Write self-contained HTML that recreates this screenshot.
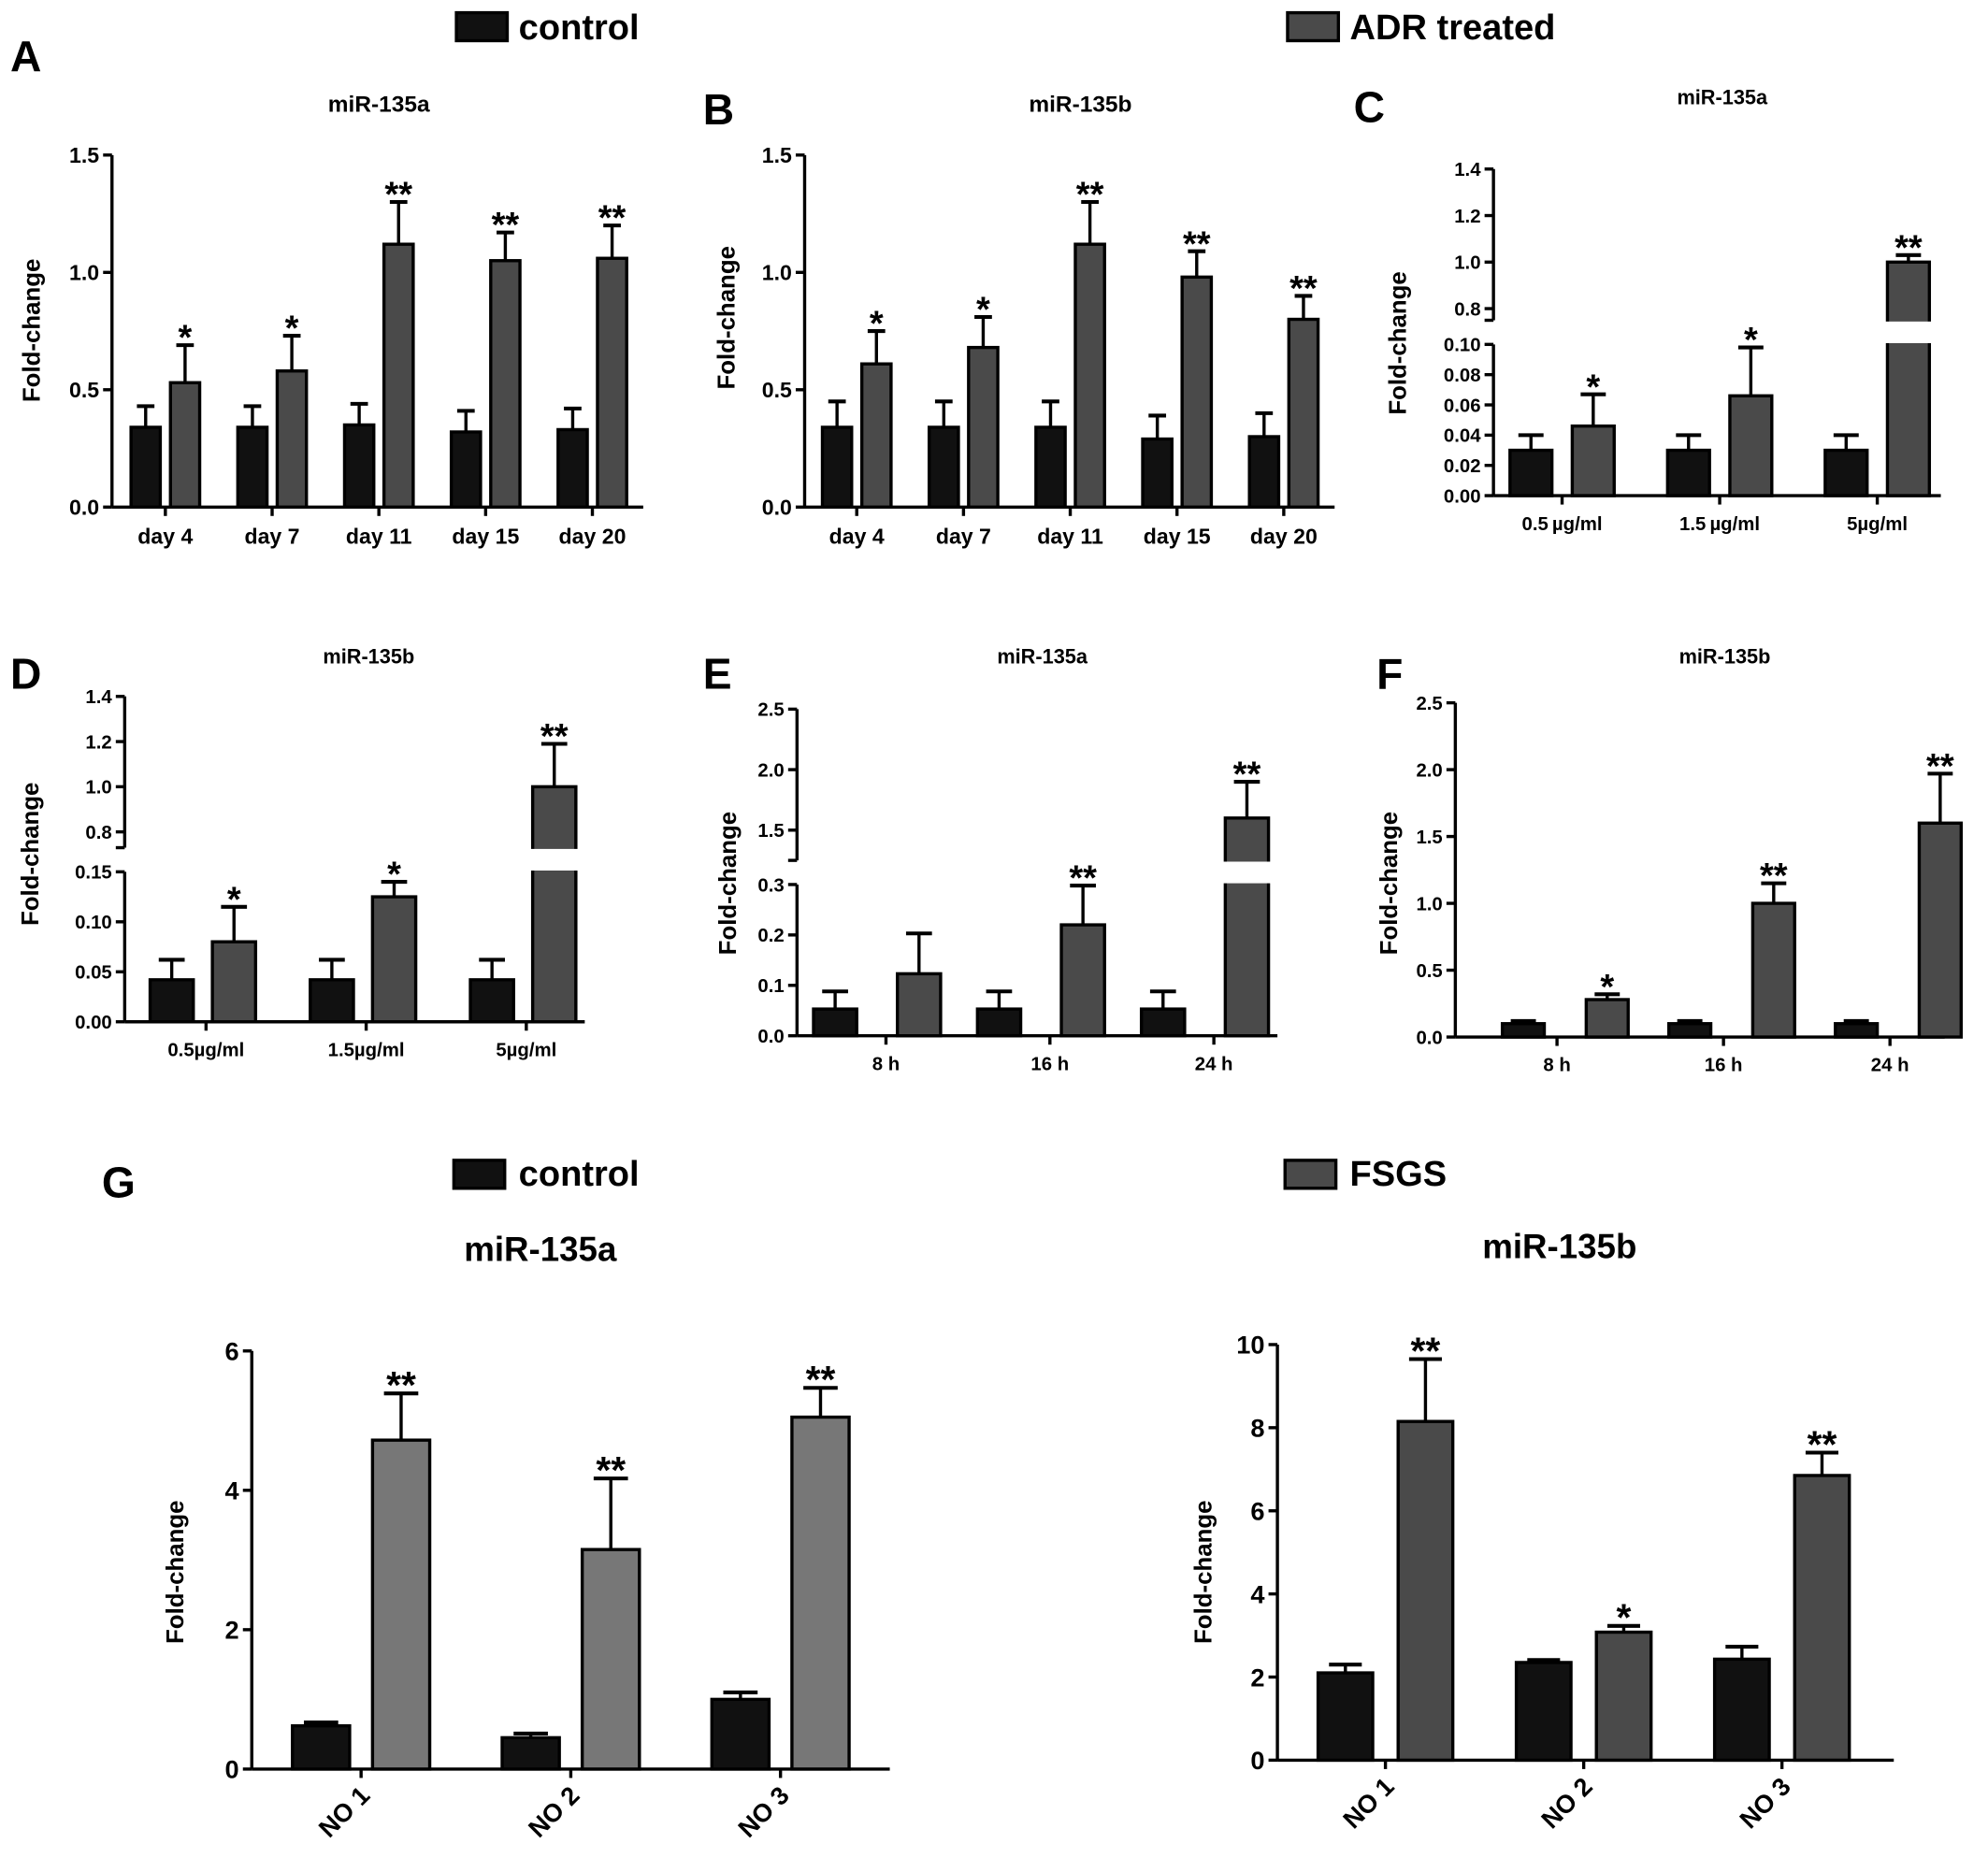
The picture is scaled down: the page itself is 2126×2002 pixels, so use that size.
<!DOCTYPE html>
<html><head><meta charset="utf-8"><style>
html,body{margin:0;padding:0;background:#fff;}
svg{display:block;font-family:"Liberation Sans Narrow","Liberation Sans",sans-serif;font-weight:bold;}
</style></head><body>
<svg id="fig" width="2126" height="2002" viewBox="0 0 1564 1473" xmlns="http://www.w3.org/2000/svg">
<rect width="1564" height="1473" fill="#fff"/>
<g>
<rect x="359" y="10" width="40" height="22" fill="#111" stroke="#000" stroke-width="2.5"/>
<text x="408" y="31" font-size="28" font-family="Liberation Sans,sans-serif">control</text>
<rect x="1013" y="10" width="40" height="22" fill="#4a4a4a" stroke="#000" stroke-width="2.5"/>
<text x="1062" y="31" font-size="28" font-family="Liberation Sans,sans-serif">ADR treated</text>
</g>
<g>
<rect x="357" y="913" width="40" height="22" fill="#111" stroke="#000" stroke-width="2.5"/>
<text x="408" y="933" font-size="28" font-family="Liberation Sans,sans-serif">control</text>
<rect x="1011" y="913" width="40" height="22" fill="#4a4a4a" stroke="#000" stroke-width="2.5"/>
<text x="1062" y="933" font-size="28" font-family="Liberation Sans,sans-serif">FSGS</text>
</g>
</svg>
<script>
// Panel A
const catsA=["day 4","day 7","day 11","day 15","day 20"];
const ctlA=[0.34,0.34,0.35,0.32,0.33];const ctlErrA=[0.09,0.09,0.09,0.09,0.09];
const trtA=[0.53,0.58,1.12,1.05,1.06];const trtErrA=[0.16,0.15,0.18,0.12,0.14];
const sigA=["*","*","**","**","**"];const ticksA=["0.0","0.5","1.0","1.5"];
// Panel B
const catsB=["day 4","day 7","day 11","day 15","day 20"];
const ctlB=[0.34,0.34,0.34,0.29,0.30];const ctlErrB=[0.11,0.11,0.11,0.10,0.10];
const trtB=[0.61,0.68,1.12,0.98,0.80];const trtErrB=[0.14,0.13,0.18,0.11,0.10];
const sigB=["*","*","**","**","**"];const ticksB=["0.0","0.5","1.0","1.5"];
// Panel C
const catsC=["0.5\u2009µg/ml","1.5\u2009µg/ml","5µg/ml"];
const ctlC=[0.03,0.03,0.03];const ctlErrC=[0.01,0.01,0.01];
const trtC=[0.046,0.066,1.0];const trtErrC=[0.021,0.032,0.03];
const sigC=["*","*","**"];
const ticksCLow=["0.00","0.02","0.04","0.06","0.08","0.10"];const ticksCHigh=["0.8","1.0","1.2","1.4"];
// Panel D
const catsD=["0.5µg/ml","1.5µg/ml","5µg/ml"];
const ctlD=[0.042,0.042,0.042];const ctlErrD=[0.02,0.02,0.02];
const trtD=[0.08,0.125,1.0];const trtErrD=[0.035,0.015,0.19];
const sigD=["*","*","**"];
const ticksDLow=["0.00","0.05","0.10","0.15"];const ticksDHigh=["0.8","1.0","1.2","1.4"];
// Panel E
const catsE=["8 h","16 h","24 h"];
const ctlE=[0.053,0.053,0.053];const ctlErrE=[0.035,0.035,0.035];
const trtE=[0.123,0.22,1.6];const trtErrE=[0.08,0.078,0.3];
const sigE=["","**","**"];
const ticksELow=["0.0","0.1","0.2","0.3"];const ticksEHigh=["1.5","2.0","2.5"];
// Panel F
const catsF=["8 h","16 h","24 h"];
const ctlF=[0.1,0.1,0.1];const ctlErrF=[0.02,0.02,0.02];
const trtF=[0.28,1.0,1.6];const trtErrF=[0.04,0.15,0.37];
const sigF=["*","**","**"];const ticksF=["0.0","0.5","1.0","1.5","2.0","2.5"];
// Panel G left
const catsG1=["NO 1","NO 2","NO 3"];
const ctlG1=[0.62,0.45,1.0];const ctlErrG1=[0.05,0.06,0.1];
const trtG1=[4.72,3.15,5.05];const trtErrG1=[0.67,1.02,0.42];
const sigG1=["**","**","**"];const ticksG1=["0","2","4","6"];
// Panel G right
const catsG2=["NO 1","NO 2","NO 3"];
const ctlG2=[2.1,2.35,2.43];const ctlErrG2=[0.2,0.06,0.3];
const trtG2=[8.15,3.08,6.85];const trtErrG2=[1.5,0.15,0.55];
const sigG2=["**","*","**"];const ticksG2=["0","2","4","6","8","10"];

const NS="http://www.w3.org/2000/svg";const svg=document.getElementById('fig');
function mk(tag,attrs,parent,txt){const e=document.createElementNS(NS,tag);for(const k in attrs)e.setAttribute(k,attrs[k]);if(txt!==undefined)e.textContent=txt;(parent||svg).appendChild(e);return e;}

function draw(c){
  const g=mk('g',{});
  
  
  const segs=c.segs;
  function y(v){for(let i=0;i<segs.length;i++){const s=segs[i];if(v<=s.hi||i===segs.length-1){return s.yLo+(v-s.lo)/(s.hi-s.lo)*(s.yHi-s.yLo);}}}
  const x0=c.axisX, yb=segs[0].yLo;
  const xa=mk('line',{x1:x0,y1:yb,x2:c.axisEnd,y2:yb,stroke:'#000','stroke-width':2.5},g);
  
  segs.forEach((s,i)=>{
    const bot=i===0?yb:s.yLo;
    const l=mk('line',{x1:x0,y1:bot,x2:x0,y2:s.yHi,stroke:'#000','stroke-width':2.5},g);
    
    if(i>0){const t=mk('line',{x1:x0-7,y1:bot,x2:x0,y2:bot,stroke:'#000','stroke-width':2.5},g);
      }
  });
  c.ticks.forEach(([labels,seg])=>{labels.forEach(lb=>{const v=parseFloat(lb);const ty=y(v);
    const tk=mk('line',{x1:x0-7,y1:ty,x2:x0,y2:ty,stroke:'#000','stroke-width':2.5},g);
    
    const tl=mk('text',{x:x0-10,y:ty+c.fs*0.36,'font-size':c.fs,'text-anchor':'end'},g,lb);
    });});
  const yt=mk('text',{x:0,y:0,'font-size':c.yfs,'text-anchor':'middle',transform:`translate(${c.ytX},${c.ytY}) rotate(-90)`,'font-family':'Liberation Sans,sans-serif'},g,'Fold-change');
  
  const tt=mk('text',{x:c.titleX,y:c.titleY,'font-size':c.tfs,'text-anchor':'middle','font-family':'Liberation Sans,sans-serif'},g,c.title);
  
  if(c.letter){const lt=mk('text',{x:c.letterX,y:c.letterY,'font-size':34,'font-family':'Liberation Sans,sans-serif'},g,c.letter);
    }
  const n=c.cats.length;
  for(let i=0;i<n;i++){
    const cx=c.c0+i*c.step;
    [[c.ctl,c.ctlErr,'#111',c.off0,'bar-control'],[c.trt,c.trtErr,c.trtColor,c.off1,'bar-treated']].forEach(([vals,errs,col,off,nm],k)=>{
      const bx=cx+off, v=vals[i], top=y(v);
      const ey=y(v+errs[i]);
      const el=mk('line',{x1:bx+c.bw/2,y1:top,x2:bx+c.bw/2,y2:ey,stroke:'#000','stroke-width':2.5},g);
      
      const ec=mk('line',{x1:bx+c.bw/2-c.bw*0.3,y1:ey,x2:bx+c.bw/2+c.bw*0.3,y2:ey,stroke:'#000','stroke-width':3},g);
      
      const r=mk('rect',{x:bx,y:top,width:c.bw,height:yb-top,fill:col,stroke:'#000','stroke-width':2.5},g);
      
      if(segs.length>1 && v>segs[0].hi){
        const gp=mk('rect',{x:bx-2,y:segs[1].yLo+1,width:c.bw+4,height:(segs[0].yHi-segs[1].yLo)-2,fill:'#fff'},g);
        
      }
      if(k===1&&c.sig[i]){const st=mk('text',{x:bx+c.bw/2,y:ey+c.sfs*0.12,'font-size':c.sfs,'text-anchor':'middle','font-family':'Liberation Sans,sans-serif'},g,c.sig[i]);
        }
    });
    const xt=mk('line',{x1:cx,y1:yb,x2:cx,y2:yb+7,stroke:'#000','stroke-width':2.5},g);
    
    let xl;
    if(c.rot){xl=mk('text',{x:0,y:0,'font-size':c.fs,'text-anchor':'end',transform:`translate(${cx+8},${yb+22}) rotate(-45)`},g,c.cats[i]);}
    else xl=mk('text',{x:cx,y:yb+c.fs+12,'font-size':c.fs,'text-anchor':'middle'},g,c.cats[i]);
    
  }
}
draw({name:'panel-a',letter:'A',letterX:8,letterY:56,title:'miR-135a',titleX:298,titleY:88,tfs:18,axisX:88,axisEnd:506,
 segs:[{lo:0,hi:1.5,yLo:399,yHi:122}],ticks:[[ticksA,0]],fs:17,yfs:19,ytX:31,ytY:260,
 cats:catsA,ctl:ctlA,ctlErr:ctlErrA,trt:trtA,trtErr:trtErrA,sig:sigA,c0:130,step:84,off0:-27,off1:4,bw:23,trtColor:'#4a4a4a',sfs:28});
draw({name:'panel-b',letter:'B',letterX:553,letterY:98,title:'miR-135b',titleX:850,titleY:88,tfs:18,axisX:633,axisEnd:1050,
 segs:[{lo:0,hi:1.5,yLo:399,yHi:122}],ticks:[[ticksB,0]],fs:17,yfs:19,ytX:578,ytY:250,
 cats:catsB,ctl:ctlB,ctlErr:ctlErrB,trt:trtB,trtErr:trtErrB,sig:sigB,c0:674,step:84,off0:-27,off1:4,bw:23,trtColor:'#4a4a4a',sfs:28});
draw({name:'panel-c',letter:'C',letterX:1065,letterY:96,title:'miR-135a',titleX:1355,titleY:82,tfs:16,axisX:1175,axisEnd:1527,
 segs:[{lo:0,hi:0.1,yLo:390,yHi:271},{lo:0.75,hi:1.4,yLo:252,yHi:133}],ticks:[[ticksCLow,0],[ticksCHigh,1]],fs:15,yfs:19,ytX:1106,ytY:270,
 cats:catsC,ctl:ctlC,ctlErr:ctlErrC,trt:trtC,trtErr:trtErrC,sig:sigC,c0:1229,step:124,off0:-41,off1:8,bw:33,trtColor:'#4a4a4a',sfs:28});
draw({name:'panel-d',letter:'D',letterX:8,letterY:542,title:'miR-135b',titleX:290,titleY:522,tfs:16,axisX:98,axisEnd:460,
 segs:[{lo:0,hi:0.15,yLo:804,yHi:686},{lo:0.73,hi:1.4,yLo:667,yHi:548}],ticks:[[ticksDLow,0],[ticksDHigh,1]],fs:15,yfs:19,ytX:30,ytY:672,
 cats:catsD,ctl:ctlD,ctlErr:ctlErrD,trt:trtD,trtErr:trtErrD,sig:sigD,c0:162,step:126,off0:-44,off1:5,bw:34,trtColor:'#4a4a4a',sfs:28});
draw({name:'panel-e',letter:'E',letterX:553,letterY:542,title:'miR-135a',titleX:820,titleY:522,tfs:16,axisX:627,axisEnd:1005,
 segs:[{lo:0,hi:0.3,yLo:815,yHi:696},{lo:1.25,hi:2.5,yLo:677,yHi:558}],ticks:[[ticksELow,0],[ticksEHigh,1]],fs:15,yfs:19,ytX:579,ytY:695,
 cats:catsE,ctl:ctlE,ctlErr:ctlErrE,trt:trtE,trtErr:trtErrE,sig:sigE,c0:697,step:129,off0:-57,off1:9,bw:34,trtColor:'#4a4a4a',sfs:28});
draw({name:'panel-f',letter:'F',letterX:1083,letterY:542,title:'miR-135b',titleX:1357,titleY:522,tfs:16,axisX:1145,axisEnd:1530,
 segs:[{lo:0,hi:2.5,yLo:816,yHi:553}],ticks:[[ticksF,0]],fs:15,yfs:19,ytX:1099,ytY:695,
 cats:catsF,ctl:ctlF,ctlErr:ctlErrF,trt:trtF,trtErr:trtErrF,sig:sigF,c0:1225,step:131,off0:-43,off1:23,bw:33,trtColor:'#4a4a4a',sfs:28});
draw({name:'panel-g-mir135a',letter:'G',letterX:80,letterY:942,title:'miR-135a',titleX:425,titleY:992,tfs:27,axisX:198,axisEnd:700,
 segs:[{lo:0,hi:6,yLo:1392,yHi:1063}],ticks:[[ticksG1,0]],fs:20,yfs:19,ytX:144,ytY:1237,
 cats:catsG1,ctl:ctlG1,ctlErr:ctlErrG1,trt:trtG1,trtErr:trtErrG1,sig:sigG1,c0:284,step:165,off0:-54,off1:9,bw:45,trtColor:'#777',sfs:30,rot:true});
draw({name:'panel-g-mir135b',title:'miR-135b',titleX:1227,titleY:990,tfs:27,axisX:1005,axisEnd:1490,
 segs:[{lo:0,hi:10,yLo:1385,yHi:1058}],ticks:[[ticksG2,0]],fs:20,yfs:19,ytX:953,ytY:1237,
 cats:catsG2,ctl:ctlG2,ctlErr:ctlErrG2,trt:trtG2,trtErr:trtErrG2,sig:sigG2,c0:1090,step:156,off0:-53,off1:10,bw:43,trtColor:'#4a4a4a',sfs:30,rot:true});
</script>
</body></html>
